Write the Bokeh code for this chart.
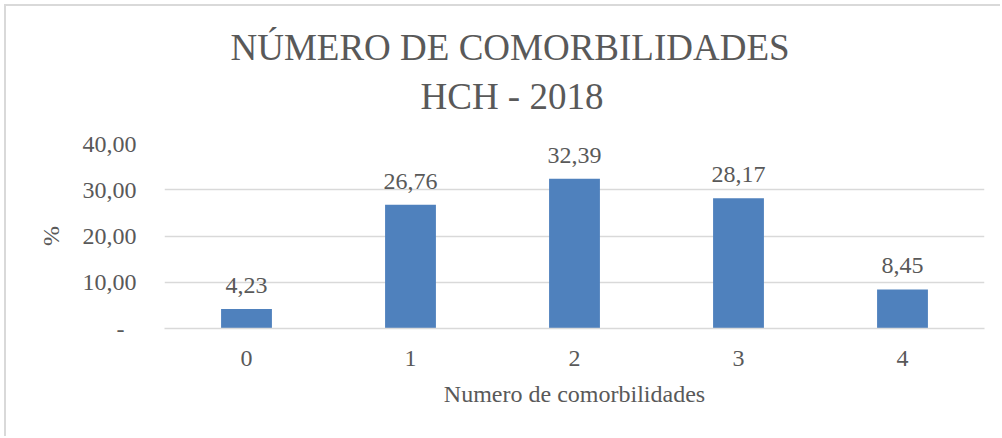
from bokeh.plotting import figure
from bokeh.models import ColumnDataSource, FixedTicker, LabelSet, Title, Range1d
from bokeh.embed import file_html
from bokeh.resources import INLINE

categories = [0, 1, 2, 3, 4]
values = [4.23, 26.76, 32.39, 28.17, 8.45]
value_labels = ["4,23", "26,76", "32,39", "28,17", "8,45"]
y_ticks = [0, 10, 20, 30, 40]
y_tick_labels = ["-\u00a0\u00a0", "10,00", "20,00", "30,00", "40,00"]

FONT = "Liberation Serif"
TXT = "#595959"

src = ColumnDataSource(dict(x=categories, top=values, lab=value_labels))

p = figure(width=996, height=432, output_backend="svg", toolbar_location=None,
           x_range=Range1d(-0.5, 4.5), y_range=Range1d(0, 40),
           min_border_left=158, min_border_right=18, min_border_top=137, min_border_bottom=110)
p.styles = {"border-left": "2px solid #d9d9d9", "border-top": "2px solid #d9d9d9",
            "margin-left": "4px", "margin-top": "4px"}

p.vbar(x="x", top="top", width=0.31, source=src, color="#4F81BD", line_color=None)

p.add_layout(LabelSet(x="x", y="top", text="lab", source=src, text_align="center",
                      text_baseline="alphabetic", y_offset=16, text_font=FONT,
                      text_font_size="24px", text_color=TXT))

p.xaxis.ticker = FixedTicker(ticks=categories)
p.yaxis.ticker = FixedTicker(ticks=y_ticks)
p.yaxis.major_label_overrides = {t: l for t, l in zip(y_ticks, y_tick_labels)}
for ax in (p.xaxis, p.yaxis):
    ax.major_label_text_font = FONT
    ax.major_label_text_font_size = "24px"
    ax.major_label_text_color = TXT
    ax.axis_label_text_font = FONT
    ax.axis_label_text_font_size = "24px"
    ax.axis_label_text_color = TXT
    ax.axis_label_text_font_style = "normal"
    ax.major_tick_line_color = None
    ax.minor_tick_line_color = None
p.xaxis.axis_label = "Numero de comorbilidades"
p.yaxis.axis_label = "%"
p.xaxis.axis_line_color = "#d9d9d9"
p.xaxis.axis_line_width = 1.5
p.yaxis.axis_line_color = None
p.xaxis.major_label_standoff = 16
p.xaxis.axis_label_standoff = 12
p.yaxis.major_label_standoff = 22
p.yaxis.axis_label_standoff = 16

p.xgrid.grid_line_color = None
p.ygrid.grid_line_color = "#d9d9d9"
p.ygrid.grid_line_width = 1.5

p.add_layout(Title(text="HCH - 2018", align="left", text_font=FONT, text_font_size="37px",
                   text_font_style="normal", text_color=TXT, offset=256, standoff=53), "above")
p.add_layout(Title(text="NÚMERO DE COMORBILIDADES", align="left", text_font=FONT,
                   text_font_size="37px", text_font_style="normal", text_color=TXT,
                   offset=66, standoff=-41), "above")

p.outline_line_color = None
p.border_fill_color = "white"

open("out.html", "w").write(file_html(p, INLINE))
